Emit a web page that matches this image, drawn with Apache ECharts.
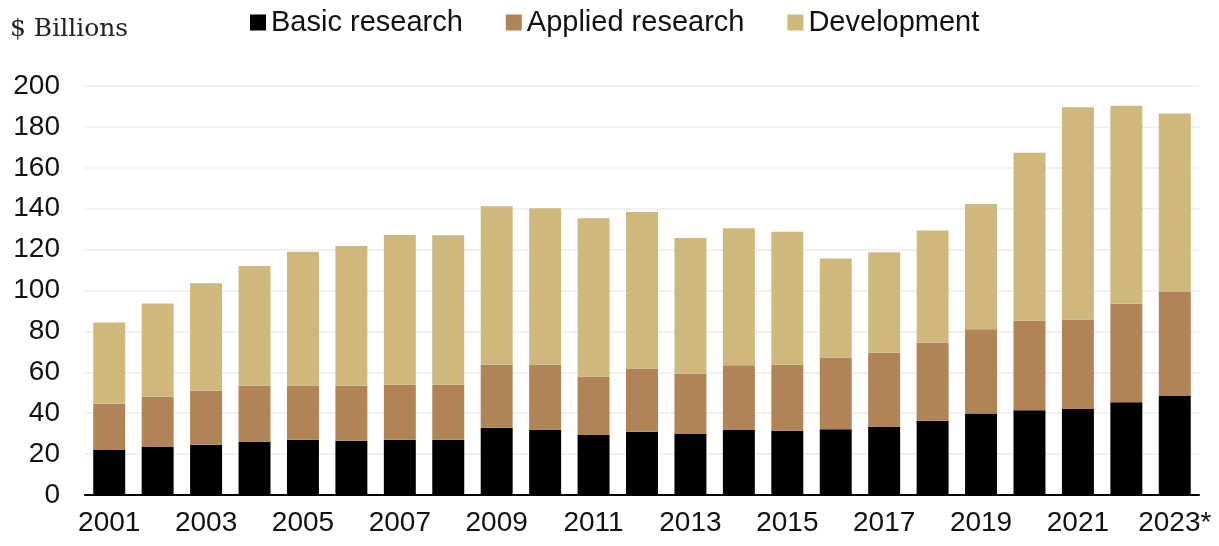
<!DOCTYPE html>
<html>
<head>
<meta charset="utf-8">
<script src="https://cdn.jsdelivr.net/npm/echarts@6/dist/echarts.min.js"></script>
<style>
  html, body { margin: 0; padding: 0; background: #fff; }
  #main { width: 1219px; height: 546px; }
</style>
</head>
<body>
<div id="main"></div>
<script>
const years = ["2001", "2002", "2003", "2004", "2005", "2006", "2007", "2008", "2009", "2010", "2011", "2012",
  "2013", "2014", "2015", "2016", "2017", "2018", "2019", "2020", "2021", "2022", "2023*"];

const basicResearch = [22.0, 23.5, 24.6, 26.1, 27.0, 26.5, 27.0, 27.0, 32.9, 31.9, 29.3, 30.9,
  29.8, 31.8, 31.4, 32.2, 33.2, 36.3, 39.9, 41.4, 42.0, 45.3, 48.4];
const appliedResearch = [22.6, 24.5, 26.4, 27.3, 26.6, 26.9, 26.9, 26.9, 30.9, 31.9, 28.7, 31.0,
  29.5, 31.6, 32.3, 34.9, 36.3, 38.1, 41.1, 43.8, 43.8, 48.2, 50.9];
const development = [39.8, 45.7, 52.6, 58.6, 65.3, 68.3, 73.3, 73.1, 77.4, 76.4, 77.3, 76.5,
  66.4, 67.1, 65.0, 48.5, 49.2, 54.9, 61.3, 82.2, 103.8, 96.9, 87.2];

const yTicks = { min: 0, max: 200, interval: 20 };

const chart = echarts.init(document.getElementById("main"));

const barSeries = (name, data, color) => ({
  name: name,
  type: "bar",
  stack: "total",
  data: data,
  barWidth: "66%",
  itemStyle: { color: color },
  emphasis: { disabled: true }
});

chart.setOption({
  animation: false,
  textStyle: { fontFamily: "Liberation Sans, Arial, sans-serif" },
  grid: { left: 85, right: 20, top: 86, bottom: 51 },
  graphic: [{
    type: "text",
    x: 10,
    y: 29,
    style: {
      text: "$ Billions",
      font: "25px 'DejaVu Serif', serif",
      fill: "#222",
      verticalAlign: "middle"
    }
  }],
  legend: {
    left: 245,
    top: 3,
    icon: "rect",
    itemWidth: 16,
    itemHeight: 16,
    itemGap: 43,
    textStyle: { fontSize: 29, color: "#111" },
    data: ["Basic research", "Applied research", "Development"]
  },
  xAxis: {
    type: "category",
    data: years,
    axisLine: { lineStyle: { color: "#000", width: 2 } },
    axisTick: { show: false },
    axisLabel: { interval: 1, fontSize: 28, color: "#111", margin: 14 }
  },
  yAxis: {
    type: "value",
    min: yTicks.min,
    max: yTicks.max,
    interval: yTicks.interval,
    axisLine: { show: false },
    axisTick: { show: false },
    axisLabel: { fontSize: 28, color: "#111", margin: 25 },
    splitLine: { lineStyle: { color: "#ececec", width: 1.5 } }
  },
  series: [
    barSeries("Basic research", basicResearch, "#000000"),
    barSeries("Applied research", appliedResearch, "#b08457"),
    barSeries("Development", development, "#cfb87c")
  ]
});
</script>
</body>
</html>
